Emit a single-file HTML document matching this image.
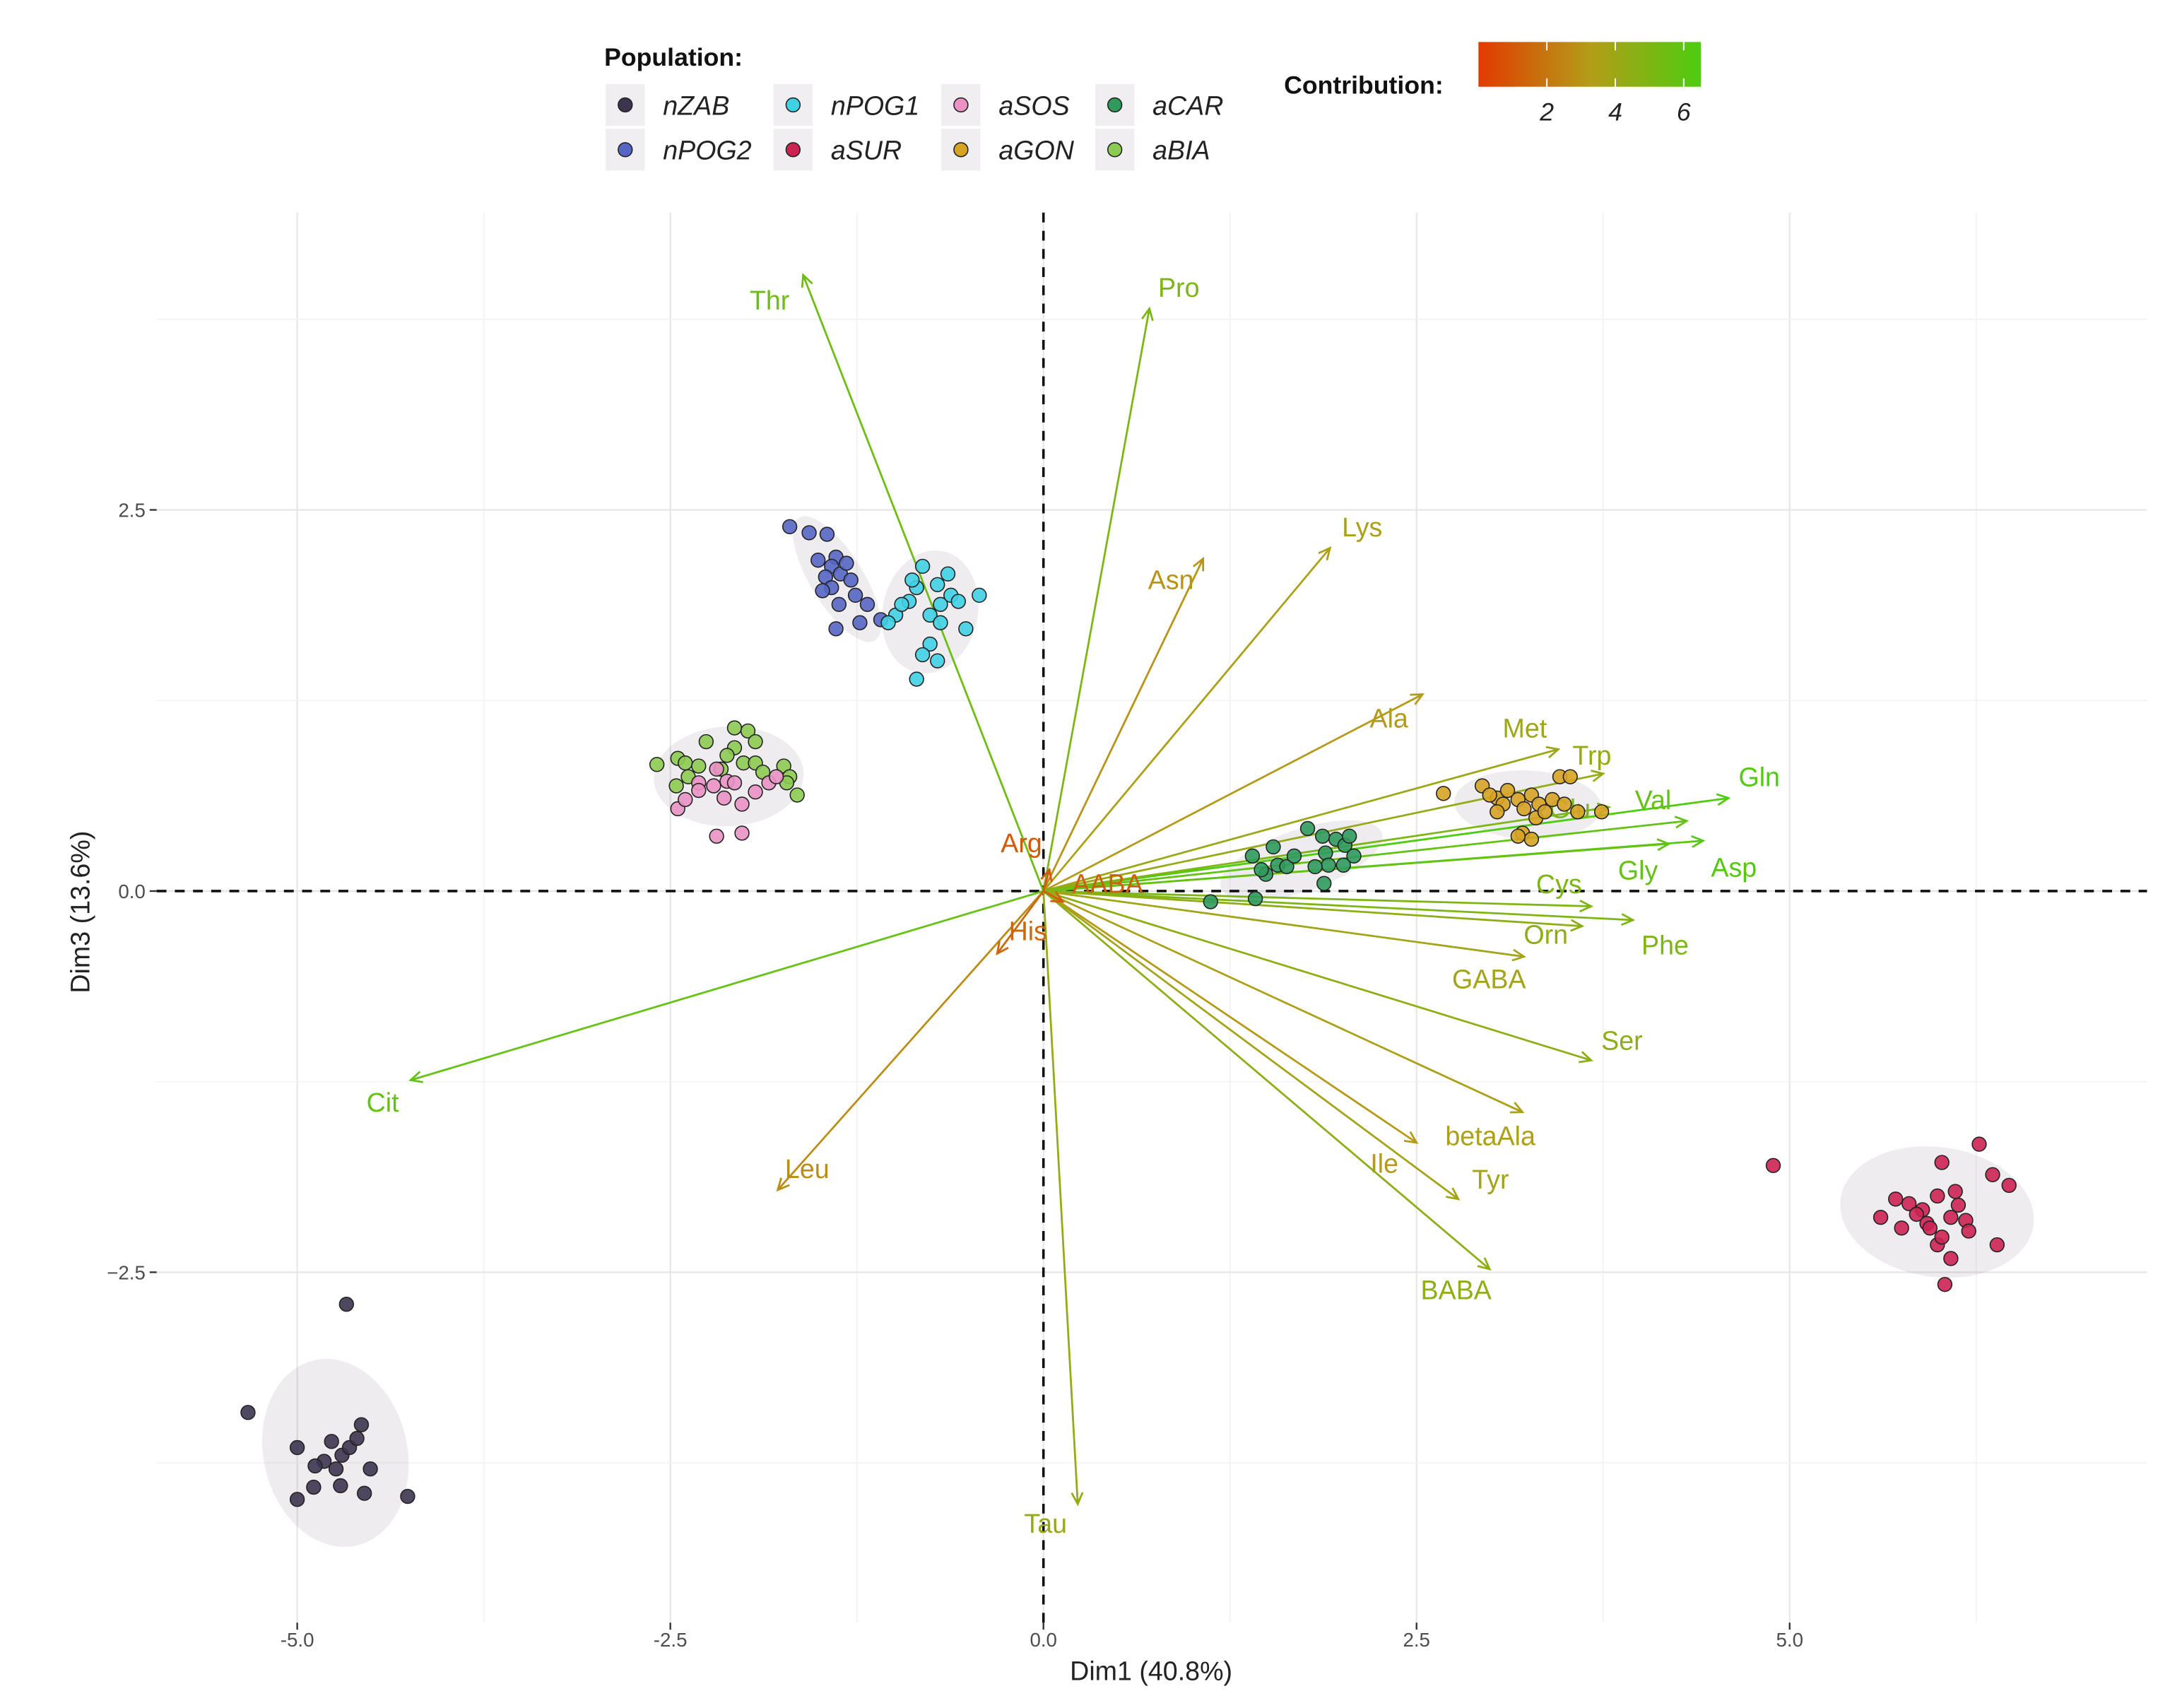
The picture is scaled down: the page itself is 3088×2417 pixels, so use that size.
<!DOCTYPE html>
<html><head><meta charset="utf-8"><style>
html,body{margin:0;padding:0;background:#fff}
svg{display:block;font-family:"Liberation Sans",sans-serif}
</style></head><body>
<svg id="chart" width="3088" height="2417" viewBox="0 0 1560 1221" xmlns="http://www.w3.org/2000/svg">
<defs>
<linearGradient id="cgrad" x1="0" x2="1" y1="0" y2="0">
<stop offset="0" stop-color="#e23a00"/><stop offset="0.5" stop-color="#b49c18"/><stop offset="1" stop-color="#4ecc10"/>
</linearGradient>
</defs>
<g id="grid"></g>
<g id="ellipses"></g>
<g id="axes0"></g>
<g id="arrows"></g>
<g id="points"></g>
<g id="ticks"></g>
<text x="823" y="1201" font-size="19" text-anchor="middle" fill="#222">Dim1 (40.8%)</text>
<text transform="translate(64,652) rotate(-90)" font-size="19" text-anchor="middle" fill="#222">Dim3 (13.6%)</text>
<g id="legend">
<text x="432" y="47" font-size="18" font-weight="bold" fill="#111">Population:</text>
</g>
<g>
<text x="918" y="67" font-size="18" font-weight="bold" fill="#111">Contribution:</text>
<rect x="1057" y="30" width="159" height="32" fill="url(#cgrad)"/>
<g id="cbticks"></g>
</g>
</svg>
<script>
const NS="http://www.w3.org/2000/svg";
// ---- data ----
const varNames=["Thr","Pro","Lys","Asn","Ala","Met","Trp","Gln","Val","Asp","Glu","Gly","Cys","Phe","Orn","GABA","Ser","betaAla","Ile","Tyr","BABA","Tau","Cit","Leu","His","Arg","AABA"];
const varX=[-1.61,0.71,1.92,1.07,2.54,3.45,3.75,4.59,4.31,4.42,3.79,4.19,3.67,3.95,3.61,3.22,3.67,3.21,2.50,2.78,2.99,0.23,-4.24,-1.78,-0.31,0.04,0.13];
const varY=[4.04,3.82,2.25,2.18,1.29,0.93,0.77,0.61,0.46,0.33,0.55,0.31,-0.10,-0.19,-0.23,-0.43,-1.11,-1.45,-1.65,-2.02,-2.48,-4.02,-1.24,-1.96,-0.41,0.14,-0.07];
const varContrib=[5.5,5.0,3.5,3.0,3.2,4.0,4.2,6.5,5.8,6.3,5.0,5.8,5.0,5.0,4.5,3.8,4.5,3.5,3.2,3.8,4.5,4.2,5.8,2.8,1.5,1.0,1.2];
const labelDX=[-24,21,23,-23,-24,-24,-8,22,-24,22,-28,-22,-23,23,-26,-25,22,-23,-23,23,-24,-23,-20,21,22,-20,32];
const labelDY=[18,-15,-15,15,17,-15,-13,-15,-15,19,1,19,-16,18,6,16,-14,17,15,-14,15,14,16,-15,-16,-19,-13];

const groups=["nZAB","nPOG2","nPOG1","aSUR","aSOS","aGON","aCAR","aBIA"];
const groupColors={nZAB:"#3d3450",nPOG2:"#5566c4",nPOG1:"#3fd2e4",aSUR:"#cc2452",aSOS:"#ea92c4",aGON:"#d6a322",aCAR:"#2f9a5c",aBIA:"#8ccb52"};
const nZAB_x=[-4.67,-5.33,-5.00,-4.57,-4.77,-4.70,-4.82,-4.65,-4.88,-4.74,-4.60,-4.51,-5.00,-4.89,-4.71,-4.55,-4.26];
const nZAB_y=[-2.71,-3.42,-3.65,-3.50,-3.61,-3.70,-3.74,-3.65,-3.77,-3.79,-3.59,-3.79,-3.99,-3.91,-3.90,-3.95,-3.97];
const aSUR_x=[4.89,6.02,6.27,6.36,6.47,5.71,5.80,5.89,5.99,6.11,5.61,5.75,5.92,6.08,6.18,6.20,6.39,5.99,6.08,6.04,5.94,5.85,6.13,6.02];
const aSUR_y=[-1.80,-1.78,-1.66,-1.86,-1.93,-2.02,-2.05,-2.09,-2.00,-1.97,-2.14,-2.21,-2.18,-2.14,-2.16,-2.23,-2.32,-2.32,-2.41,-2.58,-2.21,-2.12,-2.06,-2.27];
const nPOG2_x=[-1.70,-1.57,-1.45,-1.39,-1.42,-1.36,-1.46,-1.32,-1.42,-1.29,-1.26,-1.37,-1.18,-1.23,-1.39,-1.09,-1.48,-1.51];
const nPOG2_y=[2.39,2.35,2.34,2.19,2.13,2.08,2.06,2.15,1.99,2.04,1.94,1.88,1.88,1.76,1.72,1.78,1.97,2.17];
const nPOG1_x=[-0.81,-0.85,-0.71,-0.90,-0.99,-0.76,-0.69,-0.62,-0.57,-0.43,-0.52,-0.76,-0.81,-0.71,-0.69,-0.85,-0.95,-1.04,-0.88,-0.64];
const nPOG1_y=[2.13,1.99,2.01,1.90,1.81,1.81,1.88,1.94,1.90,1.94,1.72,1.62,1.55,1.51,1.76,1.39,1.88,1.76,2.04,2.08];
const aBIA_x=[-2.59,-2.45,-2.40,-2.07,-1.98,-1.93,-2.07,-2.12,-2.16,-2.31,-2.01,-1.93,-1.88,-1.74,-1.70,-1.65,-1.72,-2.46,-2.38,-2.26];
const aBIA_y=[0.83,0.87,0.84,1.07,1.05,0.98,0.94,0.89,0.80,0.82,0.84,0.84,0.78,0.82,0.75,0.63,0.71,0.69,0.75,0.98];
const aSOS_x=[-2.45,-2.40,-2.31,-2.21,-2.19,-2.12,-2.07,-2.02,-1.93,-1.84,-1.79,-2.19,-2.02,-2.31,-2.14];
const aSOS_y=[0.54,0.60,0.71,0.69,0.80,0.72,0.71,0.57,0.65,0.71,0.75,0.36,0.38,0.66,0.61];
const aCAR_x=[1.40,1.54,1.57,1.63,1.77,1.87,1.89,1.96,2.02,2.05,2.08,1.91,1.82,1.88,1.49,1.46,1.12,1.42,1.68,2.01];
const aCAR_y=[0.23,0.29,0.17,0.16,0.41,0.36,0.25,0.34,0.30,0.36,0.23,0.17,0.16,0.05,0.11,0.14,-0.07,-0.05,0.23,0.17];
const aGON_x=[2.68,2.94,3.04,3.08,3.11,3.18,3.22,3.27,3.30,3.32,3.36,3.41,3.46,3.53,3.49,3.58,3.74,3.21,3.27,3.18,2.99,3.04];
const aGON_y=[0.64,0.69,0.61,0.57,0.66,0.60,0.54,0.63,0.48,0.57,0.52,0.60,0.75,0.75,0.57,0.52,0.52,0.38,0.34,0.36,0.63,0.52];
const groupX={nZAB:nZAB_x,aSUR:aSUR_x,nPOG2:nPOG2_x,nPOG1:nPOG1_x,aBIA:aBIA_x,aSOS:aSOS_x,aCAR:aCAR_x,aGON:aGON_x};
const groupY={nZAB:nZAB_y,aSUR:aSUR_y,nPOG2:nPOG2_y,nPOG1:nPOG1_y,aBIA:aBIA_y,aSOS:aSOS_y,aCAR:aCAR_y,aGON:aGON_y};
const xTicks=[-5,-2.5,0,2.5,5];
const xTickLabels=["-5.0","-2.5","0.0","2.5","5.0"];
const yTicks=[-2.5,0,2.5];
const yTickLabels=["\u22122.5","0.0","2.5"];
const cbTicks=[2,4,6];

// ---- scales ----
const X0=746,KX=106.7,Y0=637,KY=109;
const PL=112,PR=1535,PT=152,PB=1160;
const sx=v=>X0+v*KX, sy=v=>Y0-v*KY;
const cbx=v=>1057+v*(159/6.5);
function mk(tag,attrs,parent){const e=document.createElementNS(NS,tag);for(const k in attrs)e.setAttribute(k,attrs[k]);parent.appendChild(e);return e;}
function lerp(a,b,t){return Math.round(a+(b-a)*t);}
function ccol(v){const t=Math.max(0,Math.min(1,v/6.5));let c1,c2,u;
 if(t<0.5){c1=[226,58,0];c2=[180,156,24];u=t/0.5;}else{c1=[180,156,24];c2=[78,204,16];u=(t-0.5)/0.5;}
 return `rgb(${lerp(c1[0],c2[0],u)},${lerp(c1[1],c2[1],u)},${lerp(c1[2],c2[2],u)})`;}

// grid
const grid=document.getElementById('grid');
for(let v=-6.25;v<=7.5;v+=1.25){const px=sx(v);if(px<PL||px>PR)continue;
 const major=Math.abs(v/2.5-Math.round(v/2.5))<1e-6;
 const l=mk('line',{x1:px,x2:px,y1:PT,y2:PB,stroke:major?'#e6e6e6':'#f2f2f2','stroke-width':major?1.1:0.8},grid);
 }
for(let v=-3.75;v<=4.5;v+=1.25){const py=sy(v);if(py<PT||py>PB)continue;
 const major=Math.abs(v/2.5-Math.round(v/2.5))<1e-6;
 const l=mk('line',{x1:PL,x2:PR,y1:py,y2:py,stroke:major?'#e6e6e6':'#f2f2f2','stroke-width':major?1.1:0.8},grid);
 }

// ellipses (computed from group points)
const eg=document.getElementById('ellipses');
const ellGroups=["nZAB","aSUR","nPOG2","nPOG1","aBIA","aCAR","aGON"];
ellGroups.forEach(g=>{
 let xs=groupX[g].map(sx),ys=groupY[g].map(sy);
 if(g==="aBIA"){xs=xs.concat(groupX.aSOS.map(sx));ys=ys.concat(groupY.aSOS.map(sy));}
 const n=xs.length,mx=xs.reduce((a,b)=>a+b)/n,my=ys.reduce((a,b)=>a+b)/n;
 let sxx=0,syy=0,sxy=0;for(let i=0;i<n;i++){const dx=xs[i]-mx,dy=ys[i]-my;sxx+=dx*dx;syy+=dy*dy;sxy+=dx*dy;}
 sxx/=n-1;syy/=n-1;sxy/=n-1;
 const tr=sxx+syy,det=sxx*syy-sxy*sxy,d=Math.sqrt(Math.max(0,tr*tr/4-det));
 const l1=tr/2+d,l2=Math.max(tr/2-d,1);const ang=Math.atan2(l1-sxx,sxy||1e-9)*180/Math.PI;
 const k=2.05;
 const e=mk('ellipse',{cx:mx,cy:my,rx:k*Math.sqrt(l1),ry:k*Math.sqrt(l2),transform:`rotate(${ang} ${mx} ${my})`,fill:'#7a6a78','fill-opacity':0.13},eg);
 
});

// zero lines
const z=document.getElementById('axes0');
let zl=mk('line',{x1:PL,x2:PR,y1:sy(0),y2:sy(0),stroke:'#111','stroke-width':1.8,'stroke-dasharray':'7,6'},z);

zl=mk('line',{x1:sx(0),x2:sx(0),y1:PT,y2:PB,stroke:'#111','stroke-width':1.8,'stroke-dasharray':'7,6'},z);


// arrows
const ag=document.getElementById('arrows');
varNames.forEach((nm,i)=>{
 const c=ccol(varContrib[i]);const x1=sx(0),y1=sy(0),x2=sx(varX[i]),y2=sy(varY[i]);
 const g=mk('g',{},ag);
 
 
 mk('line',{x1,y1,x2,y2,stroke:c,'stroke-width':1.4},g);
 const a=Math.atan2(y2-y1,x2-x1),L=9,w=0.45;
 mk('polyline',{points:`${x2-L*Math.cos(a-w)},${y2-L*Math.sin(a-w)} ${x2},${y2} ${x2-L*Math.cos(a+w)},${y2-L*Math.sin(a+w)}`,fill:'none',stroke:c,'stroke-width':1.4},g);
 const t=mk('text',{x:x2+labelDX[i],y:y2+labelDY[i],'font-size':19,'text-anchor':'middle','dominant-baseline':'central',fill:c},g);
 
 
 t.textContent=nm;
});

// points
const pg=document.getElementById('points');
["nZAB","aSUR","aBIA","aSOS","nPOG2","nPOG1","aCAR","aGON"].forEach(g=>{
 groupX[g].forEach((v,i)=>{
  const c=mk('circle',{cx:sx(v),cy:sy(groupY[g][i]),r:5,fill:groupColors[g],stroke:'#222','stroke-width':0.8,'fill-opacity':0.9},pg);
  
  
 });
});

// ticks
const tg=document.getElementById('ticks');
xTicks.forEach((v,i)=>{
 mk('line',{x1:sx(v),x2:sx(v),y1:PB,y2:PB+5,stroke:'#333','stroke-width':1.2},tg);
 const t=mk('text',{x:sx(v),y:PB+17,'font-size':14,'text-anchor':'middle',fill:'#4d4d4d'},tg);
 
 
 t.textContent=xTickLabels[i];
});
yTicks.forEach((v,i)=>{
 mk('line',{x1:PL-5,x2:PL,y1:sy(v),y2:sy(v),stroke:'#333','stroke-width':1.2},tg);
 const t=mk('text',{x:PL-8,y:sy(v)+5,'font-size':14,'text-anchor':'end',fill:'#4d4d4d'},tg);
 
 
 t.textContent=yTickLabels[i];
});

// population legend
const lg=document.getElementById('legend');
const legOrder=["nZAB","nPOG1","aSOS","aCAR","nPOG2","aSUR","aGON","aBIA"];
const colKX=[447,567,687,797];
legOrder.forEach((g,i)=>{
 const col=i%4,row=Math.floor(i/4);const kx=colKX[col],ky=75+row*32;
 const e=mk('g',{},lg);
 
 
 mk('rect',{x:kx-14,y:ky-15,width:28,height:30,fill:'#f0eef0'},e);
 mk('circle',{cx:kx,cy:ky,r:5,fill:groupColors[g],stroke:'#222','stroke-width':0.8},e);
 const t=mk('text',{x:kx+27,y:ky+7,'font-size':19,'font-style':'italic',fill:'#222'},e);
 t.textContent=g;
});

// colorbar ticks
const cb=document.getElementById('cbticks');
cbTicks.forEach(v=>{
 mk('line',{x1:cbx(v),x2:cbx(v),y1:30,y2:36,stroke:'#fff','stroke-width':1},cb);
 mk('line',{x1:cbx(v),x2:cbx(v),y1:56,y2:62,stroke:'#fff','stroke-width':1},cb);
 const t=mk('text',{x:cbx(v),y:86,'font-size':18,'font-style':'italic','text-anchor':'middle',fill:'#222'},cb);
 
 
 t.textContent=v;
});
</script>
</body></html>
